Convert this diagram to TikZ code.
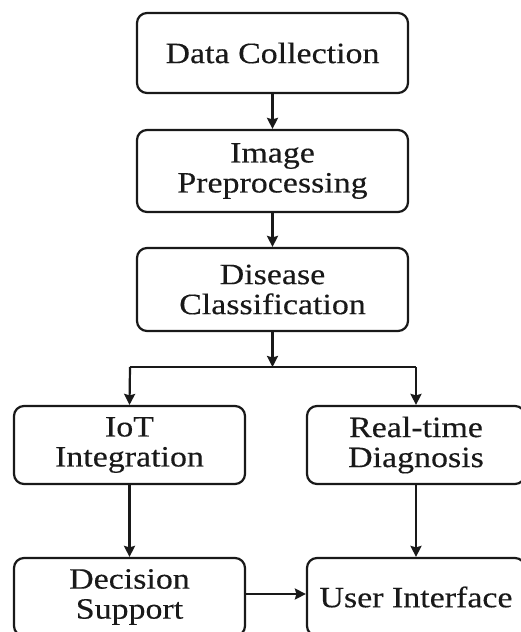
\documentclass[tikz,border=0pt]{standalone}
\usepackage{fontspec}
\setmainfont{Liberation Serif}[FakeStretch=1.15,FakeBold=0.3]
\usetikzlibrary{arrows.meta}
\begin{document}
\begin{tikzpicture}[x=1pt,y=-1pt,
  box/.style={draw=black!90, line width=2.2pt, rounded corners=10pt, align=center,
    inner sep=0pt, font=\fontsize{29.5}{30}\selectfont, text=black!90},
  topbox/.style={box, minimum width=271pt, minimum height=80pt},
  lowbox/.style={box, minimum width=231pt, minimum height=78pt},
  rbox/.style={box, minimum width=218pt, minimum height=78pt},
  arr/.style={draw=black!90, line width=2.2pt, -{Stealth[length=11pt,width=11pt,inset=1.5pt]}},
  ln/.style={draw=black!90, line width=2.2pt}]
\useasboundingbox (0,0) rectangle (521,632);
\clip (0,0) rectangle (521,632);
\fill[white] (0,0) rectangle (521,632);
\node[topbox] (dc) at (272.5,53) {Data Collection};
\node[topbox, minimum height=82pt] (ip) at (272.5,171) {Image\\Preprocessing};
\node[topbox, minimum height=83pt] (dis) at (272.5,289.5) {Disease\\Classification};
\node[lowbox] (iot) at (129.5,445) {IoT\\Integration};
\node[rbox] (rt) at (416,445) {Real-time\\Diagnosis};
\node[lowbox] (ds) at (129.5,597) {Decision\\Support};
\node[rbox] (ui) at (416,597) {User Interface};
\coordinate (split) at (272.5,367);
\coordinate (jl) at (130,367);
\coordinate (jr) at (416,367);
\draw[arr] (dc) -- (ip);
\draw[arr] (ip) -- (dis);
\draw[arr] (dis) -- (split);
\draw[ln] (jl) -- (jr);
\draw[arr] (jl) -- (iot.north);
\draw[arr] (jr) -- (rt.north);
\draw[arr] (iot) -- (ds);
\draw[arr] (rt) -- (ui);
\draw[arr] (ds.east |- 0,594) -- (ui.west |- 0,594);
\end{tikzpicture}
\end{document}
